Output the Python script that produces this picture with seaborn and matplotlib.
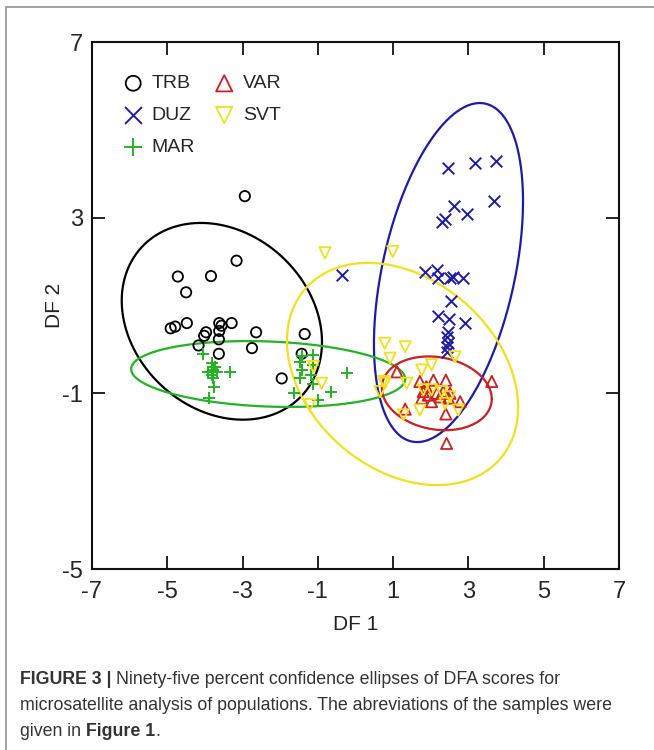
import numpy as np
import pandas as pd
import matplotlib
matplotlib.use("Agg")
import matplotlib.pyplot as plt
import seaborn as sns
from matplotlib.patches import Rectangle

# ---------------- data ----------------
trb_x = [-2.94, -3.16, -4.72, -3.84, -4.50, -4.91, -4.79, -4.48, -3.97, -4.02, -4.17,
         -3.62, -3.56, -3.62, -3.63, -3.29, -3.63, -2.64, -2.75, -1.96, -1.35, -1.43]
trb_y = [3.49, 2.02, 1.66, 1.67, 1.30, 0.48, 0.52, 0.60, 0.39, 0.31, 0.09,
         0.60, 0.54, 0.42, 0.23, 0.60, -0.10, 0.39, 0.03, -0.66, 0.35, -0.10]

duz_x = [2.47, 3.18, 3.73, 3.68, 2.62, 2.96, 2.29, 2.38, 1.85, 2.16, 2.20, 2.51,
         2.58, 2.86, 2.54, 2.20, 2.49, 2.91, 2.47, 2.42, 2.47, 2.42, 2.42, -0.37]
duz_y = [4.12, 4.24, 4.29, 3.39, 3.27, 3.08, 2.91, 2.96, 1.77, 1.81, 1.62, 1.62,
         1.66, 1.62, 1.11, 0.75, 0.69, 0.61, 0.40, 0.29, 0.14, 0.06, -0.05, 1.70]

mar_x = [-4.04, -3.82, -3.73, -3.79, -3.69, -3.91, -3.33, -3.78, -3.76, -3.88, -3.80,
         -1.12, -1.43, -1.47, -1.12, -1.43, -1.19, -1.47, -1.12, -0.23, -0.65, -1.63, -0.99]
mar_y = [-0.11, -0.32, -0.39, -0.47, -0.51, -0.51, -0.51, -0.66, -0.85, -1.11, -0.58,
         -0.13, -0.15, -0.28, -0.35, -0.47, -0.58, -0.66, -0.79, -0.53, -0.96, -1.00, -1.15]

var_x = [1.10, 1.71, 2.07, 2.40, 1.80, 1.93, 2.16, 2.33, 2.51, 1.76, 2.02, 2.47,
         2.78, 3.62, 1.32, 2.40, 2.42, 1.88, 2.25]
var_y = [-0.51, -0.73, -0.70, -0.70, -0.96, -1.04, -1.00, -0.96, -1.00, -1.11, -1.19, -1.11,
         -1.19, -0.73, -1.36, -1.47, -2.14, -0.85, -1.08]

svt_x = [-0.81, 0.99, 0.78, 1.32, 0.92, -1.12, -0.90, -1.21, 0.74, 2.64, 1.76, 2.02,
         0.78, 1.36, 1.80, 2.02, 2.29, 2.51, 1.71, 1.27, 2.38, 2.73, 0.65]
svt_y = [2.20, 2.23, 0.14, 0.06, -0.20, -0.39, -0.77, -1.26, -0.73, -0.17, -0.47, -0.35,
         -0.77, -0.77, -0.92, -0.92, -0.96, -1.08, -1.38, -1.49, -1.23, -1.38, -0.96]

groups = ["TRB", "DUZ", "MAR", "VAR", "SVT"]
# 95% ellipses: centre x, centre y, half-width in x, half-height in y, correlation
ell_cx = [-3.55, 2.47, -2.32, 2.16, 1.25]
ell_cy = [0.64, 1.75, -0.56, -1.00, -0.56]
ell_rx = [2.66, 1.98, 3.64, 1.46, 3.07]
ell_ry = [2.24, 3.86, 0.75, 0.84, 2.53]
ell_rho = [-0.21, 0.42, -0.15, -0.15, -0.30]

x_ticks = [-7, -5, -3, -1, 1, 3, 5, 7]
y_ticks = [-5, -1, 3, 7]

# ---------------- styling ----------------
colors = {"TRB": "#000000", "DUZ": "#1c1ca8", "MAR": "#22b422",
          "VAR": "#cc1f1f", "SVT": "#f2e01c"}
markers = {"TRB": "o", "DUZ": "x", "MAR": "+", "VAR": "^", "SVT": "v"}
sizes = {"TRB": 55, "DUZ": 70, "MAR": 75, "VAR": 65, "SVT": 65}

sns.set_style("ticks")
plt.rcParams["font.family"] = ["Liberation Sans", "DejaVu Sans"]

W, H = 654, 750
fig = plt.figure(figsize=(W / 100, H / 100), dpi=100)
L, R, T, B = 92, 619, 42, 569
ax = fig.add_axes([L / W, 1 - B / H, (R - L) / W, (B - T) / H])

data = {
    "TRB": (trb_x, trb_y), "DUZ": (duz_x, duz_y), "MAR": (mar_x, mar_y),
    "VAR": (var_x, var_y), "SVT": (svt_x, svt_y),
}

# ellipses first (under points)
t = np.linspace(0, 2 * np.pi, 400)
for g, cx, cy, rx, ry, rho in zip(groups, ell_cx, ell_cy, ell_rx, ell_ry, ell_rho):
    ex = cx + rx * np.cos(t)
    ey = cy + ry * (rho * np.cos(t) + np.sqrt(1 - rho ** 2) * np.sin(t))
    ax.plot(ex, ey, color=colors[g], lw=1.6, zorder=2)

for g in groups:
    x, y = data[g]
    df = pd.DataFrame({"DF1": x, "DF2": y})
    m = markers[g]
    if m in ("o", "^", "v"):
        sns.scatterplot(data=df, x="DF1", y="DF2", ax=ax, marker=m, s=sizes[g],
                        color=colors[g], facecolor="none", edgecolor=colors[g],
                        linewidth=1.3, label=g, zorder=3)
    else:
        sns.scatterplot(data=df, x="DF1", y="DF2", ax=ax, marker=m, s=sizes[g],
                        color=colors[g], linewidth=1.4, label=g, zorder=3)

ax.set_xlim(-7, 7)
ax.set_ylim(-5, 7)
ax.set_xticks(x_ticks)
ax.set_xticklabels([str(v) for v in x_ticks])
ax.set_yticks(y_ticks)
ax.set_yticklabels([str(v) for v in y_ticks])
ax.tick_params(direction="in", length=9.5, width=1.3, top=True, right=True,
               labelsize=17, color="#111111")
ax.tick_params(axis="x", pad=9)
ax.tick_params(axis="y", pad=6.5)
for sp in ax.spines.values():
    sp.set_linewidth(1.5)
    sp.set_color("#111111")

ax.set_xlabel("DF 1", fontsize=15, color="#222222")
ax.set_ylabel("DF 2", fontsize=15, color="#222222")
ax.xaxis.label.set_va("center")
ax.yaxis.label.set_va("center")
ax.xaxis.set_label_coords(0.501, (B - 625) / (B - T))
ax.yaxis.set_label_coords((55 - L) / (R - L), (B - 305) / (B - T))

leg = ax.legend(ncol=2, loc="upper left", bbox_to_anchor=(0.045, 0.9526),
                frameon=False, fontsize=14, markerscale=1.45, handlelength=1.0,
                handletextpad=0.45, columnspacing=1.0, labelspacing=0.73,
                borderaxespad=0)

# figure frame
fig.add_artist(Rectangle((6 / W, -0.05), 1.2, 1 - 7 / H + 0.05,
                         transform=fig.transFigure, fill=False,
                         edgecolor="#9a9a9a", lw=1.3))

# caption
cap_col = "#333333"
fs = 12.8
y1 = 1 - 680 / H
bold = fig.text(20 / W, y1, "FIGURE 3 |", fontsize=fs, fontweight="bold",
                color=cap_col, va="center")
fig.canvas.draw()
r = fig.canvas.get_renderer()
bb = bold.get_window_extent(renderer=r)
fig.text(bb.x1 / W + 4 / W, y1,
         "Ninety-five percent confidence ellipses of DFA scores for",
         fontsize=fs, color=cap_col, va="center")
fig.text(20 / W, 1 - 705.5 / H,
         "microsatellite analysis of populations. The abreviations of the samples were",
         fontsize=fs, color=cap_col, va="center")
g1 = fig.text(20 / W, 1 - 731 / H, "given in ", fontsize=fs, color=cap_col, va="center")
fig.canvas.draw()
bb2 = g1.get_window_extent(renderer=r)
g2 = fig.text(bb2.x1 / W, 1 - 731 / H, "Figure 1", fontsize=fs, fontweight="bold",
              color=cap_col, va="center")
fig.canvas.draw()
bb3 = g2.get_window_extent(renderer=r)
fig.text(bb3.x1 / W, 1 - 731 / H, ".", fontsize=fs, color=cap_col, va="center")

fig.savefig("out.png", dpi=100)
